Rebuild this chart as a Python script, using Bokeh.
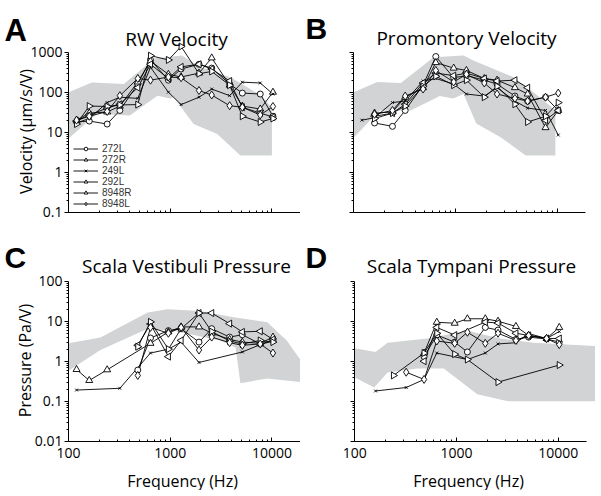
import math
from bokeh.plotting import figure
from bokeh.models import (ColumnDataSource, FixedTicker, CustomJSTickFormatter, Label,
                          Legend, LegendItem, Range1d, LogAxis)
from bokeh.layouts import column, row
from bokeh.embed import file_html
from bokeh.resources import INLINE

# ---------------- data ----------------
freqs = [120, 160, 240, 320, 480, 640, 960, 1280, 1920, 2560, 3840, 5120, 7680, 10240]
names = ["272L", "272R", "249L", "292L", "8948R", "8948L"]

# A: round-window velocity (um/s/V)
rw_272L  = [18, 19, 16, 35, 160, 650, 200, 380, 500, 400, 160, 95, 90, 25]
rw_272R  = [20, 30, 32, 45, 180, 600, 280, 240, 300, 720, 150, 45, 38, 100]
rw_249L  = [17, 22, 55, 75, 70, 420, 100, 49, 75, 120, 82, 178, 170, 90]
rw_292L  = [19, 27, 40, 50, 130, 500, 220, 430, 500, 380, 190, 42, 30, 24]
rw_8948R = [16, 45, 44, 48, 49, 820, 640, 1390, 290, 330, 150, 25, 18, 22]
rw_8948L = [20, 25, 33, 82, 220, 200, 240, 230, 110, 85, 46, 42, 27, 44]

# B: promontory velocity (um/s/V)
pr_272L  = [None, 17, 14, 35, 150, 780, 230, 260, 200, 160, 80, 60, 75, 35]
pr_272R  = [None, 30, 32, 75, 130, 550, 400, 350, 220, 200, 130, 90, 13, 35]
pr_249L  = [20, 23, 55, 60, 190, 220, 160, 90, 80, 130, 60, 40, 35, 8.5]
pr_292L  = [None, 25, 30, 50, 170, 300, 260, 300, 220, 190, 200, 130, 20, 35]
pr_8948R = [None, 22, 30, 45, 140, 250, 150, 200, 75, 140, 50, 18, 25, 55]
pr_8948L = [None, 28, 35, 80, 120, 350, 180, 280, 170, 90, 70, 60, 75, 95]

# C: scala vestibuli pressure (Pa/V)
sv_272L  = [None, None, None, None, 0.6, 3.8, 5.8, 6.5, 3.0, 6.5, 4.0, 4.6, 2.7, 3.3]
sv_272R  = [0.62, 0.33, 0.61, None, None, 2.8, 5.4, 7.2, 7.2, 5.0, 3.5, 3.0, 2.8, 4.0]
sv_249L  = [0.19, None, None, 0.21, None, 1.6, 2.0, 3.0, 0.93, None, None, 1.7, 2.6, 3.2]
sv_292L  = [None, None, None, None, 2.5, 8.5, 1.3, 3.3, 16, 16, 8.7, 5.4, 5.6, 3.5]
sv_8948R = [None, None, None, None, 2.3, 9.6, 2.0, 6.5, 16, 5.5, 3.2, 2.7, 3.3, 3.0]
sv_8948L = [None, None, None, None, 0.44, 7.0, 5.0, 7.0, 1.9, 4.0, 2.9, 2.5, 2.7, 1.6]

# D: scala tympani pressure (Pa/V)
st_272L  = [None, None, None, None, 1.3, 4.5, 3.0, 1.7, 7.0, 6.0, 3.5, 4.0, 3.6, 3.0]
st_272R  = [None, None, None, None, 1.6, 9.4, 8.9, 11.5, 11.5, 10, 7.4, 4.4, 3.7, 7.0]
st_249L  = [None, 0.18, None, 0.22, 0.35, 1.6, None, 1.1, 1.6, 2.7, 2.9, 4.9, 3.7, 5.5]
st_292L  = [None, None, None, None, 1.0, 7.0, 4.5, None, 9.5, 9.0, 5.0, 4.4, 3.7, 3.7]
st_8948R = [None, None, 0.44, None, 1.6, 5.0, 1.5, 1.1, None, 0.3, None, None, None, 0.8]
st_8948L = [None, None, None, 0.53, 0.35, 3.2, 2.8, 5.3, 2.8, 5.0, 3.3, 4.4, 3.7, 2.6]

# grey reference bands (upper edge, lower edge)
bandA_top_f = [100, 170, 350, 700, 1300, 2000, 4000, 8000, 10000]
bandA_top_v = [100, 175, 160, 700, 830, 420, 230, 80, 40]
bandA_bot_f = [10000, 4900, 2900, 1700, 1080, 1000, 750, 400, 190, 100]
bandA_bot_v = [2.6, 2.6, 9, 16, 75, 70, 82, 26, 29, 7]

bandB_top_f = [100, 170, 290, 610, 1200, 1500, 3700, 6800, 9600]
bandB_top_v = [100, 180, 170, 750, 830, 620, 240, 74, 35]
bandB_bot_f = [9600, 4900, 2800, 1600, 1200, 950, 700, 560, 360, 180, 100]
bandB_bot_v = [2.6, 2.6, 7.4, 16.5, 90, 70, 80, 60, 35, 35, 7.4]

bandC_top_f = [100, 206, 600, 940, 1970, 4200, 9000, 14000, 19500]
bandC_top_v = [2.8, 3.9, 16.5, 20, 18, 12.5, 9.4, 3.3, 1.0]
bandC_bot_f = [19500, 9000, 4900, 4400, 3100, 1080, 600, 206, 100]
bandC_bot_v = [0.3, 0.37, 0.28, 2.2, 3.3, 5.8, 6.5, 1.9, 0.58]

bandD_top_f = [100, 160, 210, 520, 1280, 2700, 5700, 23000]
bandD_top_v = [2.1, 1.7, 2.9, 3.7, 5.8, 3.7, 2.9, 2.4]
bandD_bot_f = [23000, 3200, 1600, 750, 410, 210, 155, 100]
bandD_bot_v = [0.1, 0.1, 0.15, 0.66, 0.66, 0.52, 0.22, 0.39]

x_major = [100, 1000, 10000]
y_major_vel = [0.1, 1, 10, 100, 1000]
y_major_pres = [0.01, 0.1, 1, 10, 100]

# ---------------- styling / layout ----------------
FONT = "Open Sans"
GREY = "#d1d3d4"
PXD_X = 101.7   # px per decade, x
PXD_Y = 40.0    # px per decade, y
markers = {"272L": ("circle", 0.0, 6), "272R": ("triangle", 0.0, 7),
           "249L": ("x", 0.0, 4), "292L": ("triangle", math.pi / 2, 7),
           "8948R": ("triangle", -math.pi / 2, 7), "8948L": ("diamond", 0.0, 8)}


def minors(majors, top):
    out = []
    for m in majors:
        for k in range(2, 10):
            if m * k <= top:
                out.append(m * k)
    return out


class Geo:
    def __init__(self, W, H, x100, ylog_ref, py_ref):
        self.W, self.H, self.x100, self.yr, self.pyr = W, H, x100, ylog_ref, py_ref

    def data(self, cx, cy):
        return (10 ** (2 + (cx - self.x100) / PXD_X),
                10 ** (self.yr + (self.pyr - cy) / PXD_Y))


def make_fig(g, ymaj, show_x, show_y):
    x0, y0 = g.data(0, g.H)
    x1, y1 = g.data(g.W, 0)
    p = figure(width=g.W, height=g.H, x_axis_type="log", y_axis_type="log",
               x_range=Range1d(x0, x1), y_range=Range1d(y0, y1),
               x_axis_location=None, y_axis_location=None,
               output_backend="svg", toolbar_location=None, title=None,
               min_border=0)
    p.grid.visible = False
    p.outline_line_color = None
    p.background_fill_color = "white"
    p.border_fill_color = "white"
    xa = LogAxis(fixed_location=ymaj[0], bounds=(100, 19000),
                 ticker=FixedTicker(ticks=x_major, minor_ticks=minors(x_major, 19000)),
                 major_tick_in=4, major_tick_out=0, minor_tick_in=2, minor_tick_out=0,
                 major_label_standoff=7)
    ya = LogAxis(fixed_location=100, bounds=(ymaj[0], ymaj[-1]),
                 ticker=FixedTicker(ticks=ymaj, minor_ticks=minors(ymaj[:-1], ymaj[-1])),
                 major_tick_in=0, major_tick_out=4, minor_tick_in=0, minor_tick_out=2,
                 major_label_standoff=2)
    for ax, show in ((xa, show_x), (ya, show_y)):
        ax.axis_line_color = "black"
        ax.major_tick_line_color = "black"
        ax.minor_tick_line_color = "black"
        ax.major_label_text_font = FONT
        ax.major_label_text_font_size = "14px"
        ax.major_label_text_color = "black"
        ax.formatter = CustomJSTickFormatter(
            code="return tick.toString();" if show else "return '';")
    p.add_layout(xa, "below")
    p.add_layout(ya, "left")
    return p


def put(p, g, text, cx, cy, size, align="center", baseline="alphabetic", angle=0.0,
        font=FONT, style="normal"):
    x, y = g.data(cx, cy)
    p.add_layout(Label(x=x, y=y, text=text, text_font=font, text_font_size=size,
                       text_align=align, text_baseline=baseline, angle=angle,
                       text_font_style=style, text_color="black"))


def add_band(p, tf, tv, bf, bv):
    p.patch(tf + bf, tv + bv, fill_color=GREY, line_color=None)


def add_series(p, table):
    items = []
    rends = {}
    for nm in names:
        vals = table[nm]
        xs = [f for f, v in zip(freqs, vals) if v is not None]
        ys = [v for v in vals if v is not None]
        src = ColumnDataSource(dict(x=xs, y=ys))
        ln = p.line("x", "y", source=src, line_color="black", line_width=0.9)
        rends[nm] = (ln, src)
    for nm in names:
        ln, src = rends[nm]
        mk, ang, sz = markers[nm]
        sc = p.scatter("x", "y", source=src, marker=mk, angle=ang, size=sz,
                       fill_color="white", line_color="black", line_width=0.9)
        items.append(LegendItem(label=nm, renderers=[ln, sc]))
    return items


# canvas geometry: (width, height, px of 100 Hz, reference decade, its px row)
gA = Geo(300, 230, 68.0, 3, 51.7)
gB = Geo(298, 230, 53.3, 3, 51.7)
gC = Geo(300, 260, 68.0, 2, 50.7)
gD = Geo(298, 260, 54.3, 2, 50.7)

pA = make_fig(gA, y_major_vel, False, True)
pB = make_fig(gB, y_major_vel, False, False)
pC = make_fig(gC, y_major_pres, True, True)
pD = make_fig(gD, y_major_pres, True, False)

add_band(pA, bandA_top_f, bandA_top_v, bandA_bot_f, bandA_bot_v)
add_band(pB, bandB_top_f, bandB_top_v, bandB_bot_f, bandB_bot_v)
add_band(pC, bandC_top_f, bandC_top_v, bandC_bot_f, bandC_bot_v)
add_band(pD, bandD_top_f, bandD_top_v, bandD_bot_f, bandD_bot_v)

itemsA = add_series(pA, dict(zip(names, [rw_272L, rw_272R, rw_249L, rw_292L, rw_8948R, rw_8948L])))
add_series(pB, dict(zip(names, [pr_272L, pr_272R, pr_249L, pr_292L, pr_8948R, pr_8948L])))
add_series(pC, dict(zip(names, [sv_272L, sv_272R, sv_249L, sv_292L, sv_8948R, sv_8948L])))
add_series(pD, dict(zip(names, [st_272L, st_272R, st_249L, st_292L, st_8948R, st_8948L])))

legend = Legend(items=itemsA, location=(73, 21), padding=0, margin=0, spacing=0,
                glyph_width=25, glyph_height=9, label_height=9, label_standoff=4,
                label_text_font="Liberation Sans", label_text_font_size="10px",
                label_text_color="#333333", label_text_line_height=0.8,
                background_fill_alpha=0, border_line_alpha=0)
pA.add_layout(legend)

# panel letters
put(pA, gA, "A", 4, 30, "31px", align="left", font="Liberation Sans", style="bold")
put(pB, gB, "B", 5, 28, "30px", align="left", font="Liberation Sans", style="bold")
put(pC, gC, "C", 4, 27, "30px", align="left", font="Liberation Sans", style="bold")
put(pD, gD, "D", 5, 27, "30px", align="left", font="Liberation Sans", style="bold")

# titles
put(pA, gA, "RW Velocity", 176, 38, "19px")
put(pB, gB, "Promontory Velocity", 166, 37, "19px")
put(pC, gC, "Scala Vestibuli Pressure", 186, 35, "19px")
put(pD, gD, "Scala Tympani Pressure", 171, 35, "19px")

# axis labels
put(pA, gA, "Velocity (µm/s/V)", 25, 131, "16px", baseline="middle", angle=math.pi / 2)
put(pC, gC, "Pressure (Pa/V)", 24, 130, "16px", baseline="middle", angle=math.pi / 2)
put(pC, gC, "Frequency (Hz)", 182, 250, "16px", baseline="middle")
put(pD, gD, "Frequency (Hz)", 168, 250, "16px", baseline="middle")

layout = column(row(pA, pB, spacing=0), row(pC, pD, spacing=0), spacing=0)
open("out.html", "w").write(file_html(layout, INLINE))
